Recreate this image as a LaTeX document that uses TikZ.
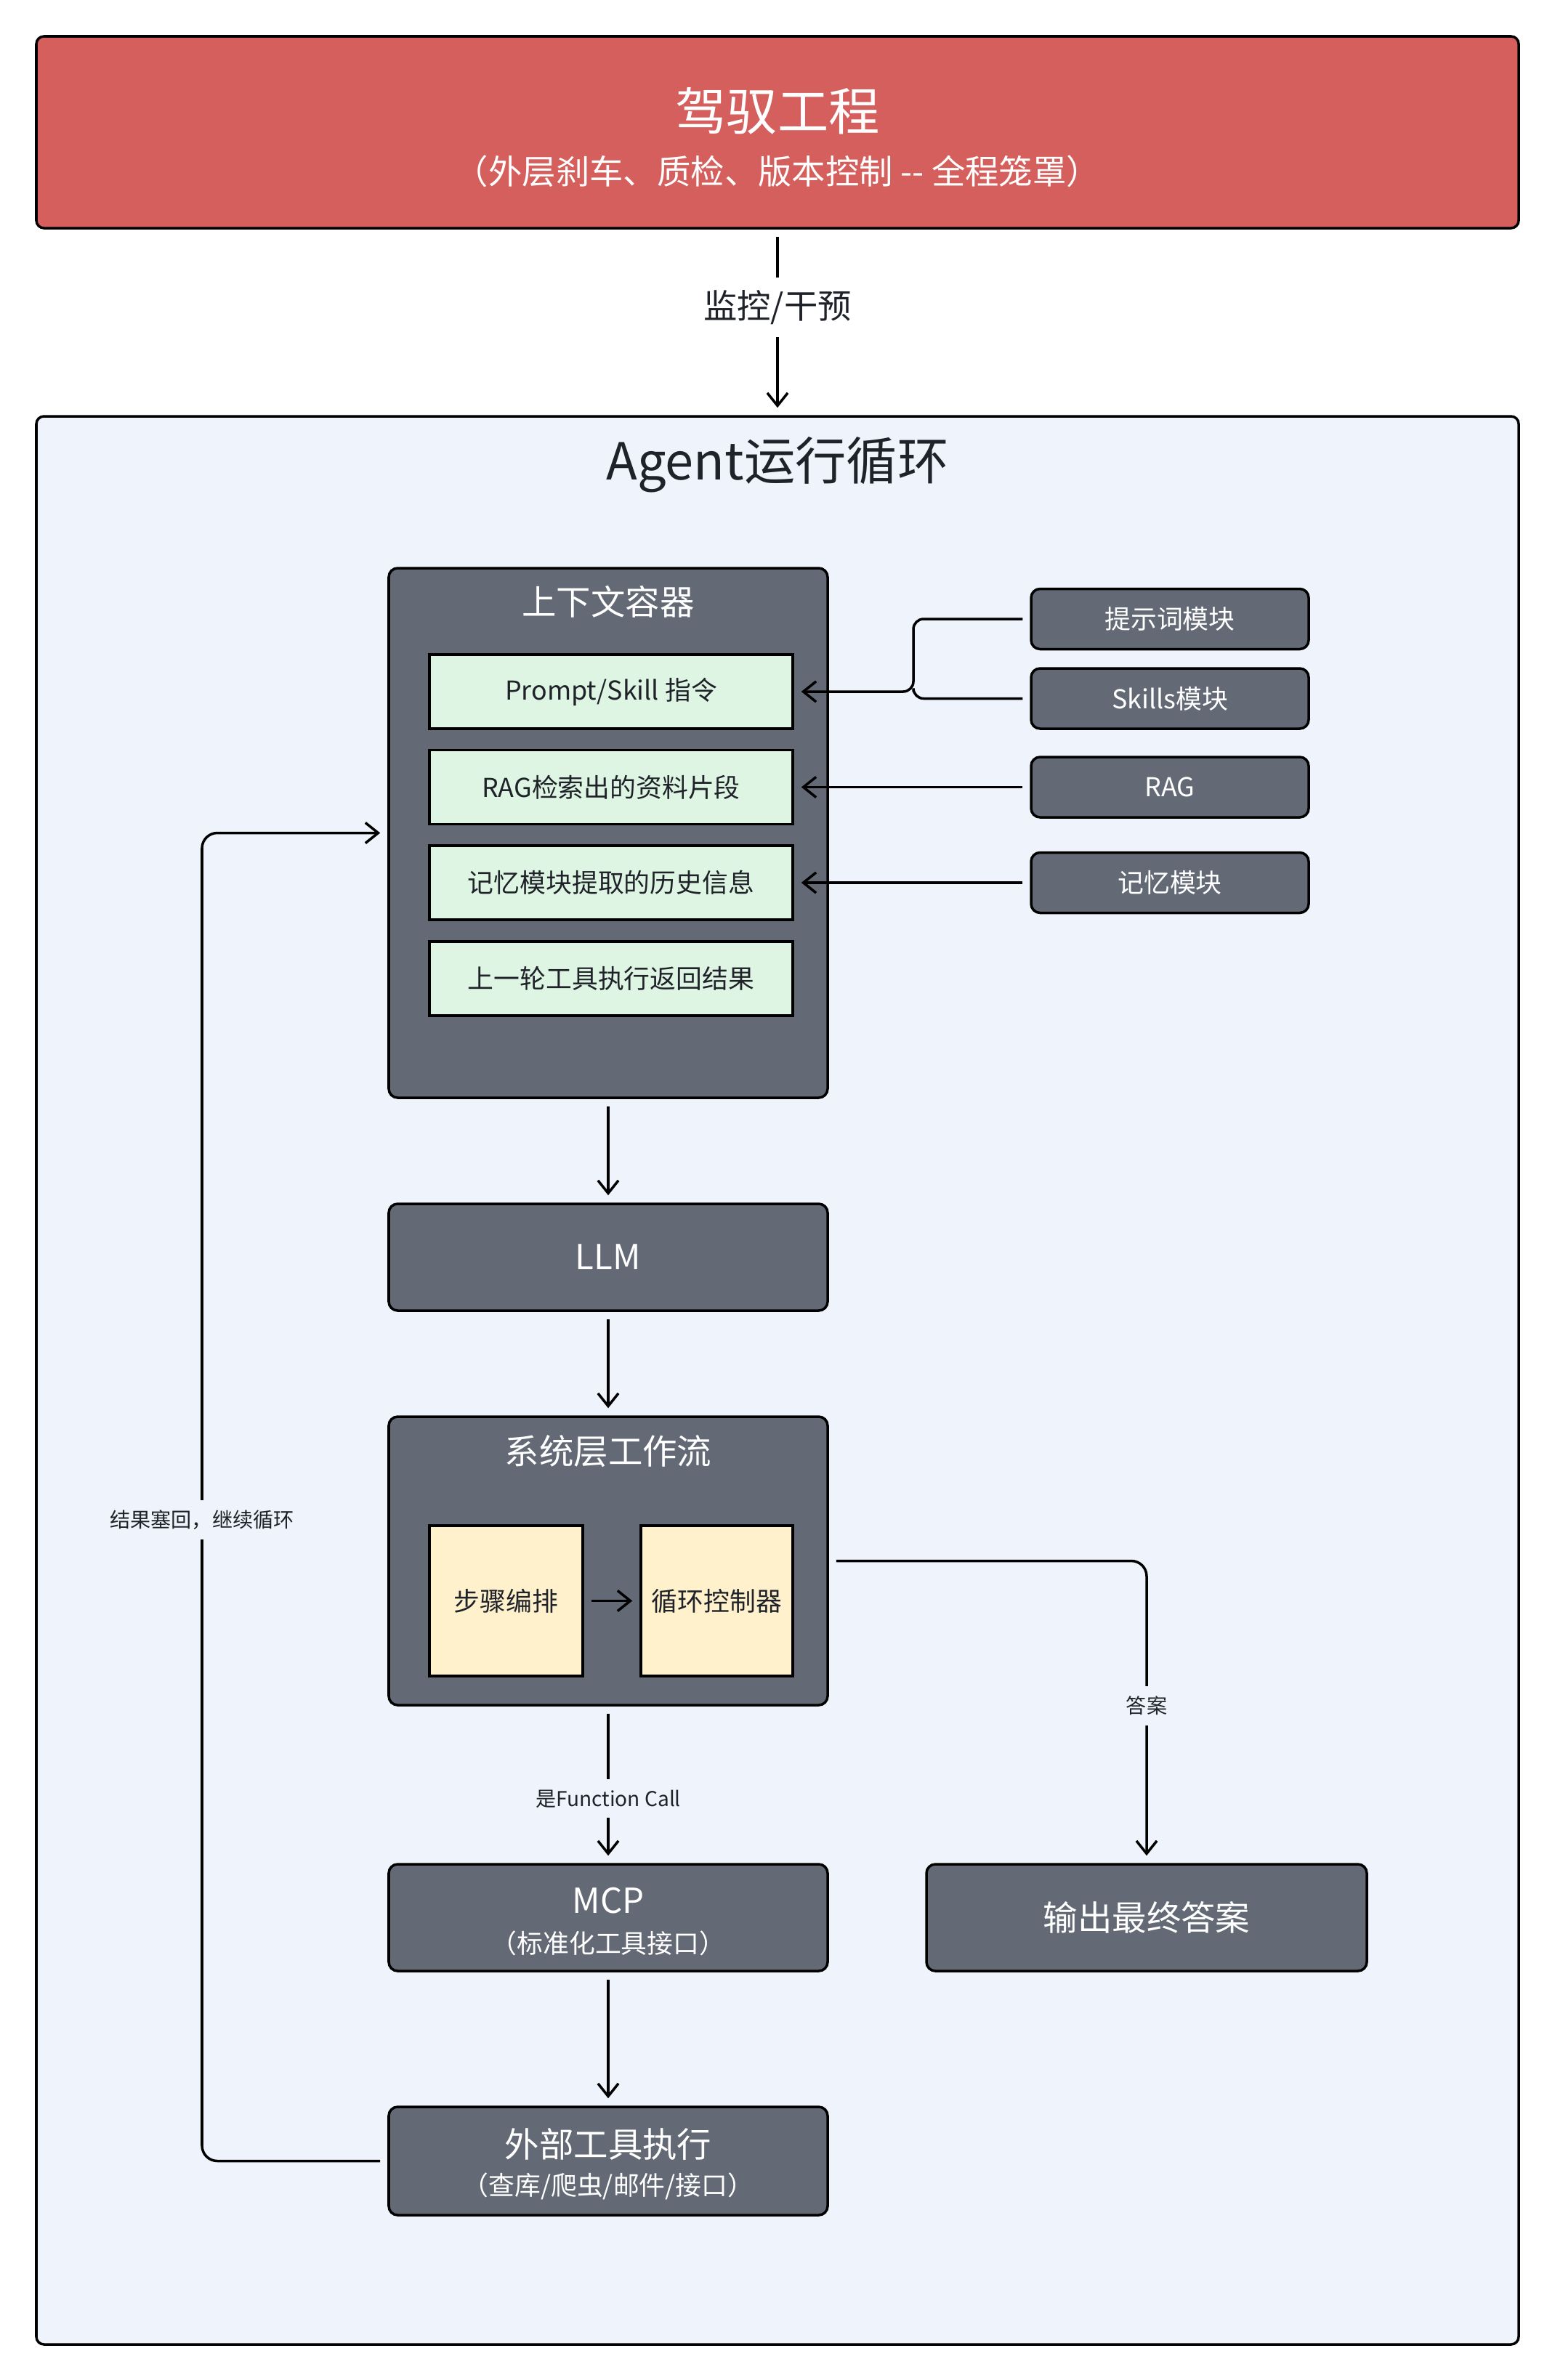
\documentclass[tikz,border=0pt]{standalone}
\usepackage{fontspec}
\setmainfont{Noto Sans CJK SC}
\usetikzlibrary{arrows.meta,calc}
\definecolor{harnessred}{HTML}{D45F5C}
\definecolor{panelbg}{HTML}{EEF3FC}
\definecolor{boxgray}{HTML}{646A75}
\definecolor{ctxgreen}{HTML}{DFF5E4}
\definecolor{flowyellow}{HTML}{FFF1CC}
\definecolor{inkdark}{HTML}{1F2329}
\newcommand{\szbig}{\fontsize{20}{24}\selectfont}
\newcommand{\szmid}{\fontsize{13.5}{16}\selectfont}
\newcommand{\szsub}{\fontsize{13.2}{15}\selectfont}
\newcommand{\szsmall}{\fontsize{10.2}{12}\selectfont}
\newcommand{\sztiny}{\fontsize{8}{10}\selectfont}

\begin{document}
\begin{tikzpicture}[>={Straight Barb[length=5pt,width=8pt]},
    box/.style={draw, line width=1pt, inner sep=0pt},
    graybox/.style={box, fill=boxgray, rounded corners=3.5pt, text=white},
    modbox/.style={graybox, minimum width=3.82cm, minimum height=0.83cm, font=\szsmall},
    greenbox/.style={box, fill=ctxgreen, text=inkdark, minimum width=5cm, minimum height=1.02cm, font=\szsmall},
    yellowbox/.style={box, fill=flowyellow, text=inkdark, minimum height=2.07cm, font=\szsmall},
    whitetxt/.style={text=white, inner sep=0pt},
    link/.style={->, line width=1pt, shorten <=0.1cm, shorten >=0.1cm},
    lbl/.style={fill=panelbg, text=inkdark, font=\sztiny, inner sep=4pt}]
  \fill[white] (0,0) rectangle (21.40,-32.76);
  \useasboundingbox (0,0) rectangle (21.40,-32.76);

  % outer harness
  \node[box, fill=harnessred, rounded corners=3pt, minimum width=20.40cm, minimum height=2.64cm] (harness) at (10.70,-1.82) {};
  \node[whitetxt, font=\szbig] (harnesst) at (10.70,-1.53) {驾驭工程};
  \node[whitetxt, font=\szsub] (harnesss) at (10.70,-2.36) {（外层刹车、质检、版本控制 -{}- 全程笼罩）};

  % agent loop panel
  \node[box, fill=panelbg, rounded corners=3pt, minimum width=20.40cm, minimum height=26.54cm] (panel) at (10.70,-19.00) {};
  \node[text=inkdark, inner sep=0pt, font=\szbig] (panelt) at (10.70,-6.40) {Agent运行循环};

  \draw[link] (harness.south) -- (panel.north)
    node[pos=0.42, fill=white, text=inkdark, font=\szsub, inner sep=5pt] (monitor) {监控/干预};

  % context container
  \node[graybox, minimum width=6.04cm, minimum height=7.29cm] (ctx) at (8.37,-11.465) {};
  \node[whitetxt, font=\szmid] (ctxt) at (8.37,-8.28) {上下文容器};
  \node[greenbox] (pskill) at (8.41,-9.52) {Prompt/Skill 指令};
  \node[greenbox] (prag) at (8.41,-10.835) {RAG检索出的资料片段};
  \node[greenbox] (pmem) at (8.41,-12.15) {记忆模块提取的历史信息};
  \node[greenbox] (ptool) at (8.41,-13.47) {上一轮工具执行返回结果};

  % modules on the right
  \node[modbox] (mprompt) at (16.10,-8.52) {提示词模块};
  \node[modbox] (mskill) at (16.10,-9.615) {Skills模块};
  \node[modbox] (mrag) at (16.10,-10.835) {RAG};
  \node[modbox] (mmem) at (16.10,-12.15) {记忆模块};

  \coordinate (merge) at (12.57,-9.52);
  \draw[link, rounded corners=4pt] (mprompt.west) -| (merge) -- (pskill.east);
  \draw[line width=1pt, shorten <=0.1cm, rounded corners=4pt] (mskill.west) -| (merge);
  \draw[link] (mrag.west) -- (prag.east);
  \draw[link] (mmem.west) -- (pmem.east);

  % main chain
  \node[graybox, minimum width=6.04cm, minimum height=1.47cm, font=\szmid] (llm) at (8.37,-17.305) {LLM};
  \node[graybox, minimum width=6.04cm, minimum height=3.97cm] (sysflow) at (8.37,-21.485) {};
  \node[whitetxt, font=\szmid] (sysflowt) at (8.37,-19.98) {系统层工作流};
  \node[yellowbox, minimum width=2.11cm] (step) at (6.965,-22.035) {步骤编排};
  \node[yellowbox, minimum width=2.09cm] (loopctl) at (9.865,-22.035) {循环控制器};

  \node[graybox, minimum width=6.04cm, minimum height=1.47cm] (mcp) at (8.37,-26.395) {};
  \node[whitetxt, font=\szmid] (mcpt) at (8.37,-26.16) {MCP};
  \node[whitetxt, font=\szsmall] (mcps) at (8.37,-26.75) {（标准化工具接口）};

  \node[graybox, minimum width=6.04cm, minimum height=1.49cm] (ext) at (8.37,-29.745) {};
  \node[whitetxt, font=\szmid] (extt) at (8.37,-29.51) {外部工具执行};
  \node[whitetxt, font=\szsmall] (exts) at (8.37,-30.09) {（查库/爬虫/邮件/接口）};

  \node[graybox, minimum width=6.06cm, minimum height=1.47cm, font=\szmid] (answer) at (15.78,-26.395) {输出最终答案};

  \draw[link] (ctx.south) -- (llm.north);
  \draw[link] (llm.south) -- (sysflow.north);
  \draw[link] (step.east) -- (loopctl.west);
  \draw[link] (sysflow.south) -- (mcp.north)
    node[pos=0.59, lbl] (fcall) {是Function Call};
  \draw[link] (mcp.south) -- (ext.north);
  \draw[link, rounded corners=6pt] (sysflow.east) -| (answer.north)
    node[pos=0.74, lbl] (ansnote) {答案};

  % feedback loop
  \coordinate (loopbk) at (2.78,-20.92);
  \draw[link, rounded corners=6pt] (ext.west) -| (loopbk) |- (ctx.west);
  \node[lbl] (loopnote) at (loopbk) {结果塞回，继续循环};
\end{tikzpicture}
\end{document}
